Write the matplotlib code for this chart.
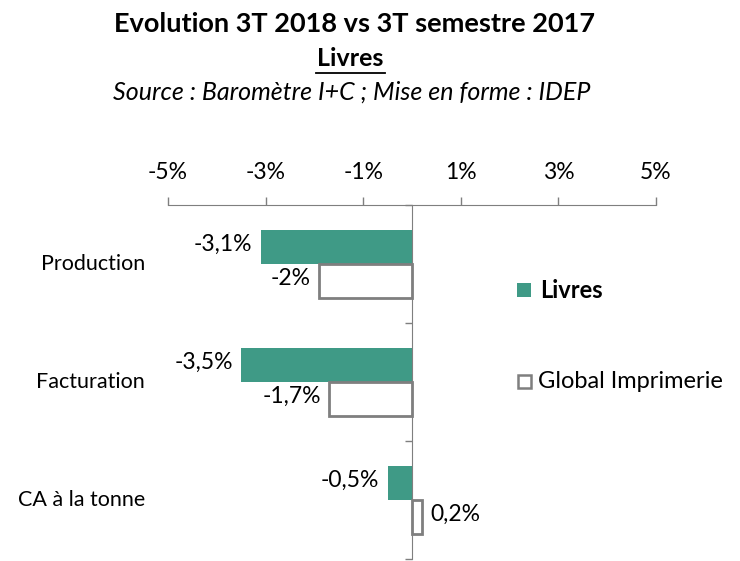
import matplotlib
matplotlib.use("Agg")
import matplotlib.pyplot as plt
import matplotlib.transforms as mtransforms

plt.rcParams['font.family'] = ['Lato', 'DejaVu Sans']

categories = ["Production", "Facturation", "CA à la tonne"]
livres = [-3.1, -3.5, -0.5]
globalimp = [-1.9, -1.7, 0.2]
livres_labels = ["-3,1%", "-3,5%", "-0,5%"]
global_labels = ["-2%", "-1,7%", "0,2%"]
xticks = [-5, -3, -1, 1, 3, 5]
xtick_labels = ["-5%", "-3%", "-1%", "1%", "3%", "5%"]
series_names = ["Livres", "Global Imprimerie"]

teal = "#3F9A86"
gray = "#7F7F7F"

fig = plt.figure(figsize=(7.4, 5.61), dpi=100)
ax = fig.add_axes([168/740, 1-559/561, 488/740, (559-205)/561])

h = 0.288
ypos = list(range(len(categories)))
ax.barh([y - h/2 for y in ypos], livres, height=h, color=teal, edgecolor='none', zorder=2)
ax.barh([y + h/2 for y in ypos], globalimp, height=h, color='white', edgecolor=gray, linewidth=2, zorder=2)

ax.set_xlim(-5, 5)
ax.set_ylim(2.5, -0.5)

for y, v, lab in zip(ypos, livres, livres_labels):
    ax.annotate(lab, (v, y - h/2), xytext=(-6 if v < 0 else 6, 2), textcoords='offset points',
                ha='right' if v < 0 else 'left', va='center', fontsize=16.5)
for y, v, lab in zip(ypos, globalimp, global_labels):
    ax.annotate(lab, (v, y + h/2), xytext=(-6 if v < 0 else 6, 2), textcoords='offset points',
                ha='right' if v < 0 else 'left', va='center', fontsize=16.5)

ax.xaxis.tick_top()
ax.set_xticks(xticks)
ax.set_xticklabels(xtick_labels, fontsize=16.5)
ax.tick_params(axis='x', direction='out', length=6, width=1, color=gray, pad=10)
ax.set_yticks([-0.5, 0.5, 1.5, 2.5])
ax.set_yticklabels([])
ax.tick_params(axis='y', direction='out', length=5, width=1, color=gray)

for s in ['bottom', 'right']:
    ax.spines[s].set_visible(False)
ax.spines['top'].set_color(gray)
ax.spines['left'].set_color(gray)
ax.spines['left'].set_position(('data', 0))

trans = mtransforms.blended_transform_factory(fig.transFigure, ax.transData)
for y, c in zip(ypos, categories):
    ax.text(145/740, y, c, transform=trans, ha='right', va='center', fontsize=15.5)

fig.text(355/740, 1-24/561, "Evolution 3T 2018 vs 3T semestre 2017", ha='center', va='center',
         fontsize=19.5, fontweight='bold')
fig.text(350/740, 1-59/561, "Livres", ha='center', va='center', fontsize=18, fontweight='bold')
fig.add_artist(plt.Line2D([316/740, 385/740], [1-73/561, 1-73/561], color='black', linewidth=1.3))
fig.text(352/740, 1-92/561, "Source : Baromètre I+C ; Mise en forme : IDEP", ha='center', va='center',
         fontsize=18, style='italic')

# legend
fig.patches.append(plt.Rectangle((517/740, 1-297/561), 14/740, 14/561, transform=fig.transFigure,
                                 facecolor=teal, edgecolor='none'))
fig.text(540/740, 1-290/561, series_names[0], ha='left', va='center', fontsize=17, fontweight='bold')
fig.patches.append(plt.Rectangle((518/740, 1-388/561), 13/740, 13/561, transform=fig.transFigure,
                                 facecolor='white', edgecolor=gray, linewidth=1.8))
fig.text(538/740, 1-382/561, series_names[1], ha='left', va='center', fontsize=17)

fig.savefig("out.png", dpi=100)
